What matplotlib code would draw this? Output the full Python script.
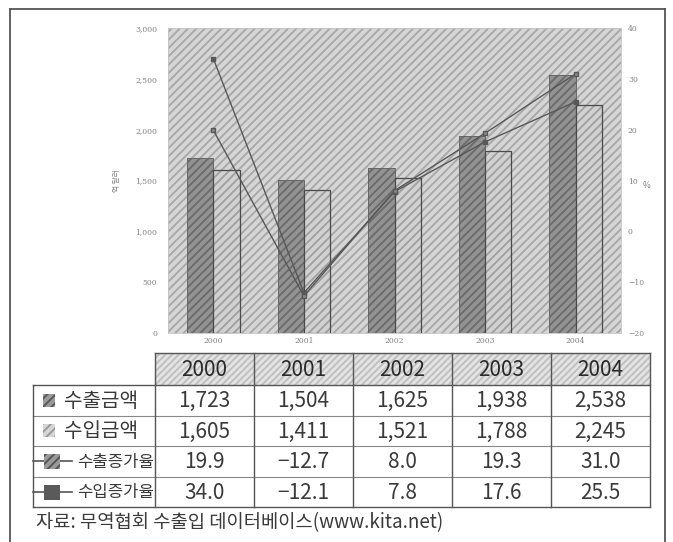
import matplotlib
matplotlib.use("Agg")
import matplotlib.pyplot as plt
from matplotlib.patches import Rectangle
import numpy as np

plt.rcParams['font.family'] = ['Noto Sans CJK KR', 'DejaVu Sans']
plt.rcParams['hatch.linewidth'] = 1.4

years = ["2000", "2001", "2002", "2003", "2004"]
export_amt = [1723, 1504, 1625, 1938, 2538]
import_amt = [1605, 1411, 1521, 1788, 2245]
export_growth = [19.9, -12.7, 8.0, 19.3, 31.0]
import_growth = [34.0, -12.1, 7.8, 17.6, 25.5]
left_ticks = [0, 500, 1000, 1500, 2000, 2500, 3000]
right_ticks = [-20, -10, 0, 10, 20, 30, 40]
row_labels = ["수출금액", "수입금액", "수출증가율", "수입증가율"]
source = "자료: 무역협회 수출입 데이터베이스(www.kita.net)"

W, H = 673, 542
fig = plt.figure(figsize=(W / 100, H / 100), dpi=100)
fig.patch.set_facecolor('white')

def fx(px):
    return px / W

def fy(py):
    return 1 - py / H

# main chart axes
x0, x1, y0, y1 = 168, 621, 28, 333
ax = fig.add_axes([fx(x0), fy(y1), (x1 - x0) / W, (y1 - y0) / H])
ax.add_patch(Rectangle((0, 0), 1, 1, transform=ax.transAxes, facecolor='#d6d6d6',
                       edgecolor='#a9a9a9', hatch='////', lw=0, zorder=0))
x = np.arange(len(years))
bw = 0.29
ax.bar(x - bw / 2, export_amt, bw, facecolor='#939393', edgecolor='#6c6c6c',
       hatch='////', lw=0, zorder=2)
ax.bar(x - bw / 2, export_amt, bw, fill=False, edgecolor='#666666', lw=0.7, zorder=3)
ax.bar(x + bw / 2, import_amt, bw, facecolor='#d2d2d2', edgecolor='#a2a2a2',
       hatch='////', lw=0, zorder=2)
ax.bar(x + bw / 2, import_amt, bw, fill=False, edgecolor='#4a4a4a', lw=0.9, zorder=3)
ax.set_xlim(-0.5, len(years) - 0.5)
ax.set_ylim(0, 3000)
ax.set_yticks(left_ticks)
ax.set_yticklabels([f"{v:,}" for v in left_ticks])
ax.set_xticks(x)
ax.set_xticklabels(years)
for s in ax.spines.values():
    s.set_color('#c4c4c4')
    s.set_linewidth(0.6)
ax.tick_params(length=0, labelsize=5.5, labelcolor='#808080', pad=8)
for lab in ax.get_xticklabels() + ax.get_yticklabels():
    lab.set_family('DejaVu Serif')
ax.tick_params(axis='x', pad=3)
ax.set_ylabel("억 달러", fontsize=5.5, color='#808080', labelpad=10)

ax2 = ax.twinx()
ax2.set_ylim(-20, 40)
ax2.set_yticks(right_ticks)
ax2.plot(x, import_growth, color='#585858', lw=1.0, marker='s', ms=3.5,
         mfc='#585858', mec='#585858', zorder=5)
ax2.plot(x, export_growth, color='#585858', lw=1.0, marker='s', ms=3.5,
         mfc='#8a8a8a', mec='#585858', zorder=5)
for s in ax2.spines.values():
    s.set_visible(False)
ax2.tick_params(length=0, labelsize=5.5, labelcolor='#808080', pad=5)
for lab in ax2.get_yticklabels():
    lab.set_family('DejaVu Serif')
ax2.set_ylabel("%", fontsize=6, color='#808080', rotation=0, labelpad=2)

# overlay for table and frame (pixel coordinates)
ov = fig.add_axes([0, 0, 1, 1], zorder=10)
ov.set_xlim(0, W)
ov.set_ylim(H, 0)
ov.axis('off')

# outer frame
fc = '#555555'
ov.plot([10, 10], [9, H], color=fc, lw=1.3)
ov.plot([10, 665], [9, 9], color=fc, lw=1.3)
ov.plot([665, 665], [9, H], color=fc, lw=1.3)

# table geometry
tl = 33
c0 = 155
colw = 99
hy0, hy1 = 353, 385
row_h = 30.5
lc = '#555555'
tc = '#3a3a3a'
n = len(years)
right = c0 + n * colw

# header hatched cells
ov.add_patch(Rectangle((c0, hy0), n * colw, hy1 - hy0, facecolor='#e4e4e4',
                       edgecolor='#c0c0c0', hatch='/////', lw=0))
ov.plot([c0, right], [hy0, hy0], color=lc, lw=1)
for i, yr in enumerate(years):
    ov.text(c0 + colw * (i + 0.5), (hy0 + hy1) / 2 + 1, yr, ha='center', va='center',
            fontsize=15, color='#2a2a2a')

values = [
    [f"{v:,}" for v in export_amt],
    [f"{v:,}" for v in import_amt],
    [f"{v:.1f}".replace('-', '−') for v in export_growth],
    [f"{v:.1f}".replace('-', '−') for v in import_growth],
]
bottom = hy1 + row_h * len(row_labels)
# horizontal lines
ov.plot([tl, right], [hy1, hy1], color=lc, lw=1)
for r in range(1, len(row_labels)):
    yy = hy1 + row_h * r
    ov.plot([tl, right], [yy, yy], color='#888888', lw=0.8)
ov.plot([tl, right], [bottom, bottom], color=lc, lw=1)
# vertical lines
ov.plot([tl, tl], [hy1, bottom], color=lc, lw=1)
for i in range(n + 1):
    xx = c0 + colw * i
    ov.plot([xx, xx], [hy0, bottom], color=lc, lw=1)

for r, lab in enumerate(row_labels):
    yc = hy1 + row_h * (r + 0.5)
    for i, v in enumerate(values[r]):
        ov.text(c0 + colw * (i + 0.5), yc + 1, v, ha='center', va='center',
                fontsize=15, color=tc)
    if r == 0:
        ov.add_patch(Rectangle((43, yc - 6.5), 12, 13, facecolor='#9a9a9a',
                               edgecolor='#5a5a5a', hatch='////', lw=0))
        ov.text(64, yc + 1, lab, ha='left', va='center', fontsize=14.5, color=tc)
    elif r == 1:
        ov.add_patch(Rectangle((43, yc - 6.5), 12, 13, facecolor='#d6d6d6',
                               edgecolor='#9a9a9a', hatch='////', lw=0))
        ov.text(64, yc + 1, lab, ha='left', va='center', fontsize=14.5, color=tc)
    else:
        ov.plot([tl, 72], [yc, yc], color='#555555', lw=1.2)
        if r == 2:
            ov.add_patch(Rectangle((44, yc - 7), 16, 15, facecolor='#9a9a9a',
                                   edgecolor='#555555', hatch='////', lw=0, zorder=3))
        else:
            ov.add_patch(Rectangle((44, yc - 7), 16, 15, facecolor='#5a5a5a',
                                   edgecolor='#5a5a5a', lw=0, zorder=3))
        ov.text(77, yc + 1, lab, ha='left', va='center', fontsize=12, color=tc)

ov.text(36, 523, source, ha='left', va='center', fontsize=13.5, color='#3a3a3a')

fig.savefig("out.png", dpi=100)
